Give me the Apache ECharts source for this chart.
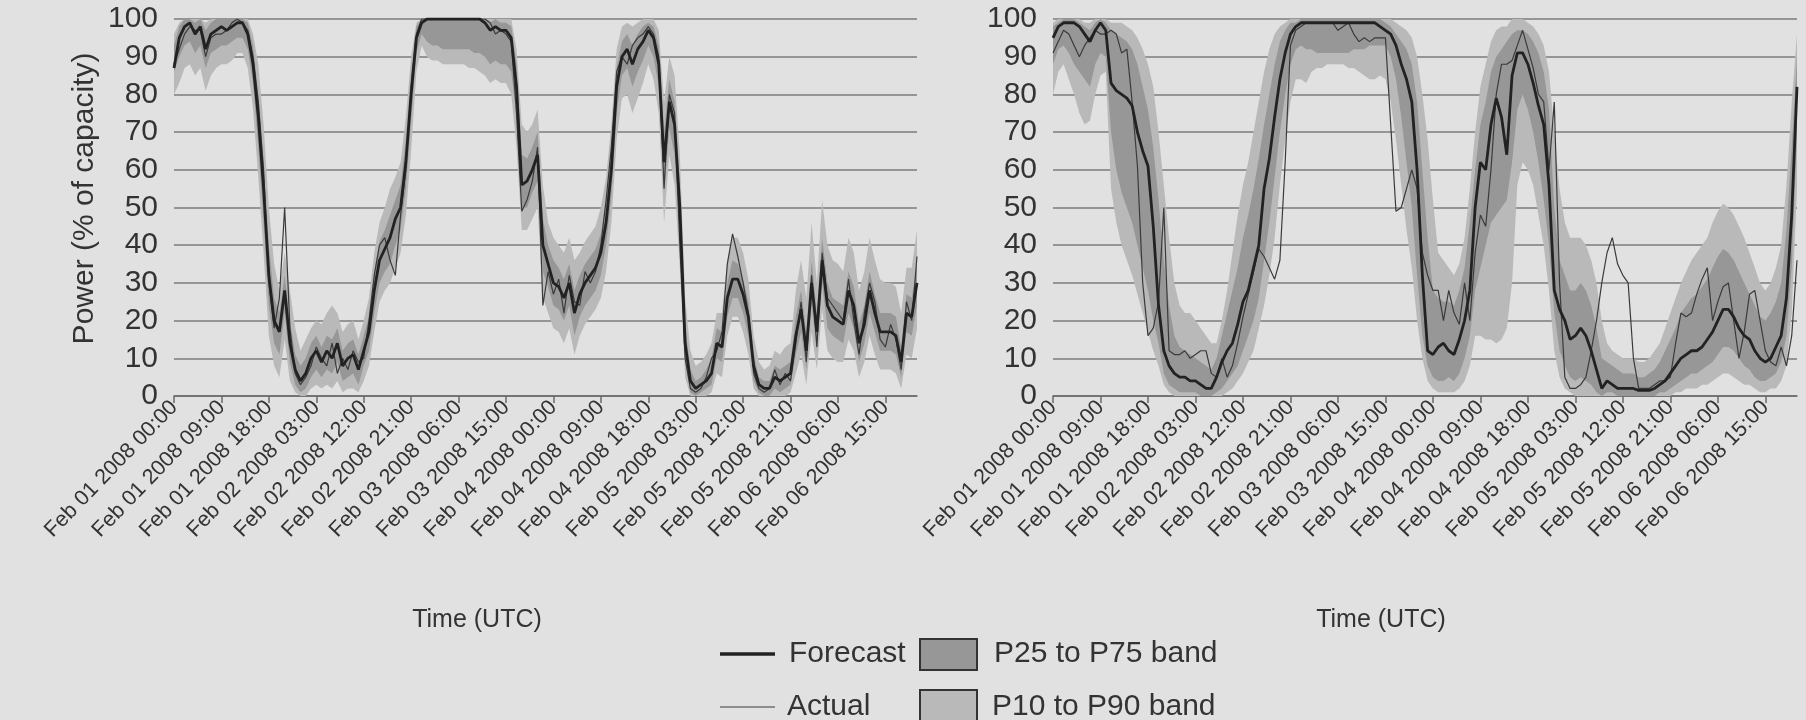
<!DOCTYPE html>
<html>
<head>
<meta charset="utf-8">
<script src="https://cdn.jsdelivr.net/npm/echarts@6/dist/echarts.min.js"></script>
<style>
  html, body { margin: 0; padding: 0; background: #e1e1e1; }
  #chart { width: 1806px; height: 720px; }
</style>
</head>
<body>
<div id="chart"></div>
<script>
// Hourly wind power, % of capacity, Feb 01 2008 00:00 UTC onwards (142 hours)
const START_UTC = Date.UTC(2008, 1, 1, 0);
const HOURS = 142;
const MONTHS = ['Jan','Feb','Mar','Apr','May','Jun','Jul','Aug','Sep','Oct','Nov','Dec'];
const pad2 = n => (n < 10 ? '0' : '') + n;

const categories = [];
for (let h = 0; h < HOURS; h++) {
  const d = new Date(START_UTC + h * 3600000);
  categories.push(MONTHS[d.getUTCMonth()] + ' ' + pad2(d.getUTCDate()) + ' ' + d.getUTCFullYear() + ' ' + pad2(d.getUTCHours()) + ':00');
}
const yTicks = [0, 10, 20, 30, 40, 50, 60, 70, 80, 90, 100];

// ---------- left panel ----------
const leftForecast = [
  87,95,98,99,96,98,92,96,97,98,
  97,98,99,99,96,88,74,55,32,20,
  17,28,14,7,4,6,10,12,9,12,
  10,14,8,10,11,7,12,17,28,36,
  39,42,47,50,62,80,95,99,100,100,
  100,100,100,100,100,100,100,100,100,99,
  97,98,97,97,95,82,56,57,60,64,
  40,35,30,29,26,30,22,27,30,32,
  34,38,46,60,82,90,92,88,92,94,
  97,95,88,62,78,72,50,14,4,2,
  3,4,6,14,13,26,31,31,27,21,
  8,3,2,2,5,4,5,6,16,23,
  12,30,17,36,24,21,20,19,28,24,
  14,19,28,22,17,17,17,16,9,22,
  21,30
];
const leftActual = [
  88,92,96,98,97,97,90,95,96,96,
  97,99,100,99,97,90,78,60,30,18,
  26,50,18,6,3,5,8,13,10,8,
  14,6,10,7,12,9,10,20,32,40,
  42,36,32,48,60,82,96,100,100,100,
  100,100,100,100,100,100,100,100,100,100,
  99,96,97,96,94,75,49,52,57,66,
  24,33,27,31,22,32,25,24,33,30,
  33,40,52,66,86,90,88,93,95,96,
  98,96,90,55,80,75,40,10,2,1,
  2,5,10,12,17,35,43,37,30,22,
  6,2,1,2,7,3,6,4,14,25,
  9,32,13,38,26,24,22,20,31,20,
  11,22,30,25,15,13,19,15,7,25,
  20,37
];
const leftP90 = [
  96,99,100,100,100,100,99,100,100,100,100,100,100,100,100,
  96,88,72,50,35,28,
  38,28,18,12,15,18,20,19,22,24,22,17,19,20,15,20,
  26,38,46,50,55,58,62,74,90,99,100,
  100,100,100,100,100,100,100,100,100,100,100,100,100,100,100,100,100,
  92,72,70,72,76,
  56,46,42,40,38,42,36,38,41,43,45,50,58,
  72,92,98,99,98,99,100,100,100,97,
  78,90,85,64,
  26,12,8,9,11,14,22,22,
  36,42,42,38,31,
  16,9,7,8,12,11,13,14,
  28,36,26,46,30,52,40,36,35,33,42,38,28,33,42,36,31,30,30,29,22,34,34,44
];
const leftP75 = [
  93,98,100,100,99,100,97,99,100,100,100,100,100,100,99,
  93,80,62,40,26,22,
  32,20,11,8,10,14,16,13,16,15,18,12,14,15,11,16,
  21,33,41,44,48,52,56,68,86,98,100,
  100,100,100,100,100,100,100,100,100,100,100,100,99,100,99,99,98,
  88,64,63,66,70,
  47,40,36,34,31,35,28,32,35,37,39,43,52,
  66,87,94,96,93,96,98,99,98,93,
  70,84,78,56,
  19,7,4,5,7,10,18,17,
  30,36,35,31,25,
  11,5,4,4,8,7,8,9,
  21,28,17,36,22,42,30,26,25,24,33,29,19,24,33,27,22,22,22,21,13,27,26,35
];
const leftP25 = [
  86,90,93,94,91,93,87,91,92,93,93,94,95,95,92,
  83,66,46,24,14,11,
  22,9,3,1,2,5,7,5,7,6,9,4,5,6,3,8,
  12,22,30,33,35,40,44,55,73,91,96,
  94,93,93,92,92,92,92,92,92,91,91,90,88,89,88,88,86,
  74,50,50,54,57,
  33,29,24,23,20,24,16,21,24,26,28,32,40,
  53,75,85,87,82,86,89,93,90,82,
  54,71,64,42,
  9,1,0,1,2,3,10,9,
  21,26,26,22,16,
  4,1,0,0,2,1,2,3,
  11,17,7,24,12,30,18,16,15,14,22,18,9,14,22,17,12,12,12,11,5,17,16,24
];
const leftP10 = [
  80,83,87,88,85,87,81,85,87,88,88,89,91,91,87,
  76,58,38,16,8,5,
  15,4,1,0,0,2,3,2,3,2,4,1,2,2,1,4,
  8,17,25,28,30,34,38,48,65,86,93,
  90,89,89,88,88,88,88,88,87,87,86,85,83,84,83,83,80,
  66,44,44,47,50,
  26,22,18,17,14,18,11,16,19,21,23,26,33,
  46,68,79,80,75,79,83,88,84,75,
  46,64,56,34,
  5,0,0,0,0,1,6,5,
  16,21,21,17,11,
  2,0,0,0,0,0,0,1,
  6,11,3,17,7,23,12,10,9,9,15,12,5,9,16,11,7,7,7,6,2,11,10,18
];

// ---------- right panel ----------
const rightForecast = [
  95,98,99,99,99,98,96,94,97,99,
  97,83,81,80,79,77,70,65,61,45,
  24,12,8,6,5,5,4,4,3,2,
  2,5,9,12,14,19,25,28,34,40,
  55,63,74,84,91,96,98,99,99,99,
  99,99,99,99,99,99,99,99,99,99,
  99,99,98,97,96,93,88,84,78,60,
  32,12,11,13,14,12,11,15,20,28,
  50,62,60,72,79,74,64,85,91,91,
  88,83,77,72,56,28,23,20,15,16,
  18,16,12,7,2,4,3,2,2,2,
  2,1.5,1.5,1.5,2,3,4,6,8,10,
  11,12,12,13,15,17,20,23,23,21,
  18,16,15,12,10,9,10,13,16,26,
  48,82
];
const rightActual = [
  91,94,97,96,93,90,93,95,97,96,
  96,97,96,91,92,78,61,30,16,18,
  25,50,12,11,11,12,10,11,12,12,
  6,5,10,5,8,14,21,27,33,39,
  37,34,31,36,62,93,97,98,99,99,
  99,99,99,99,97,98,99,96,94,95,
  94,95,95,95,72,49,50,55,60,55,
  38,32,28,28,20,28,22,19,30,20,
  38,48,45,60,80,88,88,89,93,97,
  92,87,80,78,60,78,30,5,2,2,
  3,5,12,20,30,38,42,35,32,30,
  10,2,2,2,3,4,4,5,14,22,
  21,22,27,31,34,20,25,29,30,20,
  10,17,27,28,20,12,9,8,13,8,
  16,36
];
const rightP90 = [
  99,100,100,100,100,100,99,99,100,100,100,
  99,99,99,98,97,95,92,88,82,
  70,56,42,30,24,22,22,20,18,16,14,
  14,20,28,38,48,56,62,70,78,86,92,96,98,99,100,100,
  100,100,100,100,100,100,100,100,100,100,100,100,100,100,100,100,
  100,100,99,98,97,95,90,80,68,52,
  38,36,34,32,35,42,55,
  70,82,88,94,97,98,98,100,100,100,99,98,96,93,86,70,
  55,46,42,42,42,40,36,30,20,
  14,12,11,10,10,10,9,9,10,12,14,18,22,
  26,30,33,36,38,40,42,46,49,51,50,48,45,42,38,34,30,28,30,34,40,56,78,96
];
const rightP75 = [
  98,99,100,100,100,99,98,97,99,100,99,
  97,96,95,94,92,88,82,76,66,
  52,36,24,16,13,12,11,10,9,8,7,
  10,16,22,28,34,42,48,55,63,72,80,88,94,97,99,99,
  100,100,100,100,100,100,100,100,100,100,100,100,100,100,100,100,
  99,98,96,94,92,88,78,60,42,28,
  26,25,25,24,28,34,46,
  60,72,78,86,90,92,94,96,97,97,96,94,91,86,76,50,
  36,32,28,28,30,28,24,18,10,
  9,8,7,6,6,6,5,5,6,7,9,12,15,
  18,22,24,26,27,29,31,34,37,39,38,36,33,30,27,24,21,20,22,25,30,44,66,90
];
const rightP25 = [
  88,92,93,91,88,86,84,82,88,91,90,
  70,60,54,50,46,40,34,28,20,
  14,6,3,2,1,1,1,1,0,0,0,
  1,2,4,6,8,12,16,20,26,36,46,58,70,80,88,92,
  93,92,92,91,91,91,91,91,91,91,92,92,92,93,93,93,
  93,90,84,74,62,50,32,16,8,5,
  4,4,5,4,6,10,16,
  28,34,40,46,48,50,52,62,76,80,76,70,62,52,40,22,
  12,8,5,4,5,4,3,1,0,
  1,1,0,0,0,0,0,0,0,0,1,1,2,
  3,4,5,6,6,7,8,9,11,13,13,12,10,8,7,5,4,4,5,6,9,16,34,70
];
const rightP10 = [
  80,86,88,84,80,75,72,73,80,85,86,
  55,46,40,36,32,27,22,17,12,
  8,3,1,0,0,0,0,0,0,0,0,
  0,0,1,2,4,6,9,12,18,24,32,42,56,68,78,84,
  84,83,86,87,87,88,88,88,88,87,87,86,85,84,84,85,
  84,78,68,56,44,34,20,10,4,2,
  1,1,1,1,2,4,8,
  16,16,15,15,14,15,18,30,56,62,60,56,48,40,28,12,
  5,2,1,0,0,0,0,0,0,
  0,0,0,0,0,0,0,0,0,0,0,0,0,
  1,1,2,2,2,3,3,4,5,6,6,5,4,3,3,2,1,1,2,2,4,8,22,55
];

[leftForecast, leftActual, leftP90, leftP75, leftP25, leftP10,
 rightForecast, rightActual, rightP90, rightP75, rightP25, rightP10].forEach((a, i) => {
  if (a.length !== HOURS) throw new Error('array ' + i + ' has ' + a.length + ' values');
});

// ---------- styling ----------
const FONT = "'Liberation Sans', Arial, sans-serif";
const TEXT = '#333333';
const GRID_LINE = '#7b7b7b';
const AXIS_LINE = '#6a6a6a';
const BAND_OUTER = '#b9b9b9';
const BAND_INNER = '#979797';
const FORECAST_COLOR = '#222222';
const ACTUAL_COLOR = '#3a3a3a';

const span = (hi, lo) => hi.map((v, i) => v - lo[i]);

function panelSeries(idx, p) {
  const common = { type: 'line', xAxisIndex: idx, yAxisIndex: idx, symbol: 'none', silent: true };
  const hidden = { lineStyle: { opacity: 0, width: 0 } };
  return [
    Object.assign({}, common, hidden, { name: 'p10base' + idx, stack: 'outer' + idx, data: p.p10 }),
    Object.assign({}, common, hidden, { name: 'P10 to P90 band', stack: 'outer' + idx,
      data: span(p.p90, p.p10), areaStyle: { color: BAND_OUTER, opacity: 1 }, itemStyle: { color: BAND_OUTER } }),
    Object.assign({}, common, hidden, { name: 'p25base' + idx, stack: 'inner' + idx, data: p.p25 }),
    Object.assign({}, common, hidden, { name: 'P25 to P75 band', stack: 'inner' + idx,
      data: span(p.p75, p.p25), areaStyle: { color: BAND_INNER, opacity: 1 }, itemStyle: { color: BAND_INNER } }),
    Object.assign({}, common, { name: 'Actual', data: p.actual,
      lineStyle: { color: ACTUAL_COLOR, width: 1.2 }, itemStyle: { color: ACTUAL_COLOR } }),
    Object.assign({}, common, { name: 'Forecast', data: p.forecast,
      lineStyle: { color: FORECAST_COLOR, width: 2.8 }, itemStyle: { color: FORECAST_COLOR } })
  ];
}

function xAxisFor(idx) {
  return {
    type: 'category', gridIndex: idx, data: categories, boundaryGap: false,
    axisLine: { lineStyle: { color: AXIS_LINE, width: 1.5 } },
    axisTick: { interval: 8, length: 7, lineStyle: { color: AXIS_LINE, width: 1.5 } },
    axisLabel: { interval: 8, rotate: 46, fontSize: 21.5, color: TEXT, margin: 8, fontFamily: FONT },
    splitLine: { show: false }
  };
}
function yAxisFor(idx, withName) {
  const ax = {
    type: 'value', gridIndex: idx, min: yTicks[0], max: yTicks[yTicks.length - 1], interval: 10,
    axisLine: { show: false }, axisTick: { show: false },
    axisLabel: { fontSize: 30, color: TEXT, margin: 16, fontFamily: FONT },
    splitLine: { lineStyle: { color: GRID_LINE, width: 1.6 } }
  };
  if (withName) {
    ax.name = 'Power (% of capacity)';
    ax.nameLocation = 'middle';
    ax.nameGap = 74;
    ax.nameTextStyle = { fontSize: 30, color: TEXT, fontFamily: FONT, padding: [0, 0, 0, 18] };
  }
  return ax;
}

const legendText = (x, y, text) => ({
  type: 'text', x: x, y: y,
  style: { text: text, font: '30px ' + FONT, fill: TEXT, textVerticalAlign: 'middle', textAlign: 'left' }
});
const axisTitle = (x, y) => ({
  type: 'text', x: x, y: y,
  style: { text: 'Time (UTC)', font: '25px ' + FONT, fill: TEXT, textAlign: 'center', textVerticalAlign: 'middle' }
});

const option = {
  backgroundColor: '#e1e1e1',
  animation: false,
  grid: [
    { left: 174, right: 889, top: 19, bottom: 324 },
    { left: 1053, right: 9, top: 19, bottom: 324 }
  ],
  xAxis: [xAxisFor(0), xAxisFor(1)],
  yAxis: [yAxisFor(0, true), yAxisFor(1, false)],
  series: [].concat(
    panelSeries(0, { forecast: leftForecast, actual: leftActual, p10: leftP10, p25: leftP25, p75: leftP75, p90: leftP90 }),
    panelSeries(1, { forecast: rightForecast, actual: rightActual, p10: rightP10, p25: rightP25, p75: rightP75, p90: rightP90 })
  ),
  graphic: [
    axisTitle(477, 620),
    axisTitle(1381, 620),
    // legend
    { type: 'line', shape: { x1: 720, y1: 654, x2: 775, y2: 654 }, style: { stroke: FORECAST_COLOR, lineWidth: 3.5 } },
    legendText(789, 654, 'Forecast'),
    { type: 'rect', shape: { x: 920, y: 639, width: 57, height: 31 }, style: { fill: BAND_INNER, stroke: '#333', lineWidth: 2 } },
    legendText(994, 654, 'P25 to P75 band'),
    { type: 'line', shape: { x1: 720, y1: 707, x2: 775, y2: 707 }, style: { stroke: ACTUAL_COLOR, lineWidth: 1.2 } },
    legendText(787, 707, 'Actual'),
    { type: 'rect', shape: { x: 920, y: 690, width: 57, height: 31 }, style: { fill: BAND_OUTER, stroke: '#333', lineWidth: 2 } },
    legendText(992, 707, 'P10 to P90 band')
  ]
};

const chart = echarts.init(document.getElementById('chart'), null, { renderer: 'canvas' });
chart.setOption(option);
</script>
</body>
</html>
